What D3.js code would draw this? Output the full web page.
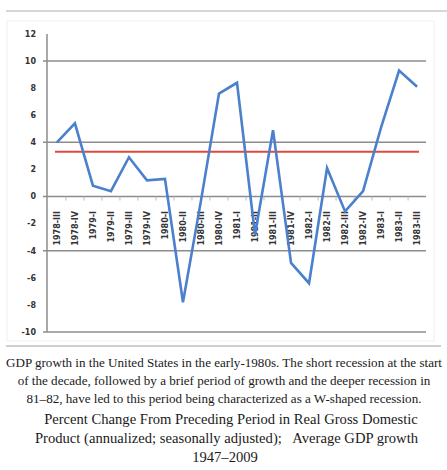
<!DOCTYPE html>
<html>
<head>
<meta charset="utf-8">
<script src="https://cdn.jsdelivr.net/npm/d3@7"></script>
<style>
  body { margin: 0; background: #fff; }
  svg { display: block; }
</style>
</head>
<body>
<div id="chart"></div>
<script>
// quarters shown on the x axis
const quarters = [
  "1978-III", "1978-IV", "1979-I", "1979-II", "1979-III", "1979-IV",
  "1980-I", "1980-II", "1980-III", "1980-IV", "1981-I", "1981-II",
  "1981-III", "1981-IV", "1982-I", "1982-II", "1982-III", "1982-IV",
  "1983-I", "1983-II", "1983-III"
];
// percent change from preceding period, annualized
const gdpGrowth = [
  4.0, 5.4, 0.8, 0.4, 2.9, 1.2,
  1.3, -7.8, -0.3, 7.6, 8.4, -2.8,
  4.9, -4.9, -6.4, 2.1, -1.1, 0.4,
  5.1, 9.3, 8.1
];
const averageGrowth = 3.3;
const yTicks = [12, 10, 8, 6, 4, 2, 0, -2, -4, -6, -8, -10];
const gridValues = [10, 4, 0, -4, -10];
const captionLines = [
  "GDP growth in the United States in the early-1980s. The short recession at the start",
  "of the decade, followed by a brief period of growth and the deeper recession in",
  "81\u201382, have led to this period being characterized as a W-shaped recession."
];
const legendLines = [
  "Percent Change From Preceding Period in Real Gross Domestic",
  "Product (annualized; seasonally adjusted);",
  "Average GDP growth",
  "1947\u20132009"
];

const width = 447, height = 470;
const svg = d3.select("#chart").append("svg")
  .attr("width", width)
  .attr("height", height);

// top rule and faint frame
svg.append("line")
  .attr("x1", 6).attr("x2", 447).attr("y1", 11).attr("y2", 11)
  .attr("stroke", "#c8c8c8").attr("stroke-width", 1.5);
svg.append("rect")
  .attr("x", 7).attr("y", 21).attr("width", 427).attr("height", 320)
  .attr("fill", "none").attr("stroke", "#f0f0f0");

const x = d3.scalePoint()
  .domain(quarters)
  .range([47, 427])
  .padding(0.55);

const y = d3.scaleLinear()
  .domain([-10, 12])
  .range([332, 34]);

// horizontal gridlines
svg.append("g")
  .selectAll("line")
  .data(gridValues)
  .join("line")
  .attr("x1", 43).attr("x2", 426)
  .attr("y1", d => y(d)).attr("y2", d => y(d))
  .attr("stroke", "#8c8c8c").attr("stroke-width", 1.5);

// vertical axis line
svg.append("line")
  .attr("x1", 47).attr("x2", 47)
  .attr("y1", y(12)).attr("y2", y(-10))
  .attr("stroke", "#8c8c8c").attr("stroke-width", 1.5);

// y tick labels
svg.append("g")
  .selectAll("text")
  .data(yTicks)
  .join("text")
  .attr("x", 36)
  .attr("y", d => y(d))
  .attr("dy", "0.35em")
  .attr("text-anchor", "end")
  .attr("font-family", "DejaVu Sans, sans-serif")
  .attr("font-size", "8px")
  .attr("font-weight", "bold")
  .attr("fill", "#333")
  .text(d => d);

// small ticks between categories
const step = x.step();
svg.append("g")
  .selectAll("line")
  .data(quarters.slice(1))
  .join("line")
  .attr("x1", d => x(d) - step / 2).attr("x2", d => x(d) - step / 2)
  .attr("y1", y(0)).attr("y2", y(0) + 4)
  .attr("stroke", "#bbb").attr("stroke-width", 1);

// x labels, rotated
svg.append("g")
  .selectAll("text")
  .data(quarters)
  .join("text")
  .attr("transform", d => `translate(${x(d)}, 211) rotate(-90)`)
  .attr("dy", "0.35em")
  .attr("text-anchor", "end")
  .attr("font-family", "DejaVu Sans, sans-serif")
  .attr("font-size", "8px")
  .attr("font-weight", "bold")
  .attr("fill", "#333")
  .text(d => d);

// average line
svg.append("line")
  .attr("x1", 55).attr("x2", 419)
  .attr("y1", y(averageGrowth)).attr("y2", y(averageGrowth))
  .attr("stroke", "#e0483e").attr("stroke-width", 2);

// GDP growth line
const line = d3.line()
  .x((d, i) => x(quarters[i]))
  .y(d => y(d));

svg.append("path")
  .datum(gdpGrowth)
  .attr("d", line)
  .attr("fill", "none")
  .attr("stroke", "#4a80cc")
  .attr("stroke-width", 2.6)
  .attr("stroke-linejoin", "miter");

// rule above caption
svg.append("line")
  .attr("x1", 6).attr("x2", 441).attr("y1", 346).attr("y2", 346)
  .attr("stroke", "#a0a0a0").attr("stroke-width", 1.2);

// caption
const serif = "Liberation Serif, Times New Roman, serif";
svg.append("g")
  .selectAll("text")
  .data(captionLines)
  .join("text")
  .attr("x", 224)
  .attr("y", (d, i) => 362 + i * 18)
  .attr("dy", "0.35em")
  .attr("text-anchor", "middle")
  .attr("font-family", serif)
  .attr("font-size", "13.1px")
  .attr("fill", "#1a1a1a")
  .text(d => d);

// legend text
const legendPos = [
  { x: 231, y: 419, anchor: "middle" },
  { x: 35, y: 438, anchor: "start" },
  { x: 418, y: 438, anchor: "end" },
  { x: 225, y: 457, anchor: "middle" }
];
svg.append("g")
  .selectAll("text")
  .data(legendLines)
  .join("text")
  .attr("x", (d, i) => legendPos[i].x)
  .attr("y", (d, i) => legendPos[i].y)
  .attr("dy", "0.35em")
  .attr("text-anchor", (d, i) => legendPos[i].anchor)
  .attr("font-family", serif)
  .attr("font-size", "14.6px")
  .attr("fill", "#1a1a1a")
  .text(d => d);
</script>
</body>
</html>
